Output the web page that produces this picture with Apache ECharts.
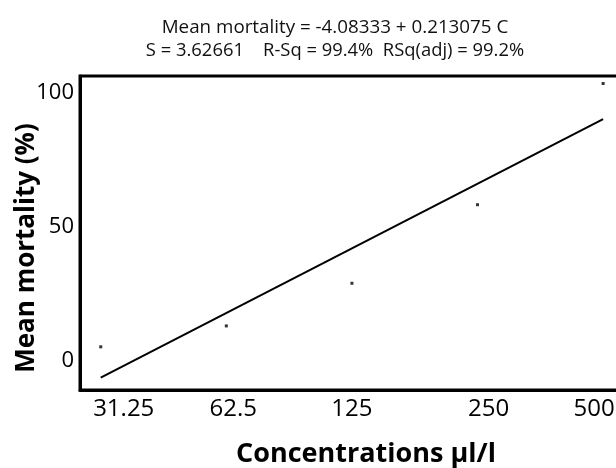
<!DOCTYPE html>
<html><head><meta charset="utf-8">
<script src="https://cdn.jsdelivr.net/npm/echarts@6/dist/echarts.min.js"></script>
<style>html,body{margin:0;padding:0;background:#fff}#c{width:616px;height:468px}</style>
</head><body><div id="c"></div>
<script>
const concentrations = ['31.25', '62.5', '125', '250', '500'];
const meanMortality = [5.3, 13.1, 29.0, 58.3, 103.5];
const fitStartEnd = [-6.2, 90.2];
const yTicks = [0, 50, 100];
const titleLine1 = 'Mean mortality = -4.08333 + 0.213075 C';
const titleLine2 = 'S = 3.62661    R-Sq = 99.4%  RSq(adj) = 99.2%';
// style only: horizontal nudge of each x label as drawn in the reference (px)
const xLabelNudge = [23, 7, 0, 11, -9];

const chart = echarts.init(document.getElementById('c'));
const idx = concentrations.map((c, i) => i);
const labelFont = {fontFamily: 'Open Sans', fontSize: 24, color: '#000'};
const rich = {};
xLabelNudge.forEach((n, i) => {
  rich['l' + i] = Object.assign({}, labelFont, {padding: n >= 0 ? [0, 0, 0, 2 * n] : [0, -2 * n, 0, 0]});
});
chart.setOption({
  animation: false,
  backgroundColor: '#fff',
  title: [
    {text: titleLine1, left: 330, top: 13, textAlign: 'center',
     textStyle: {fontFamily: 'Open Sans', fontSize: 18.8, fontWeight: 'normal', color: '#111'}},
    {text: titleLine2, left: 330, top: 37, textAlign: 'center',
     textStyle: {fontFamily: 'Open Sans', fontSize: 18.4, fontWeight: 'normal', color: '#111'}}
  ],
  grid: {left: 80, top: 76, right: -12, bottom: 78, show: true, borderColor: '#000', borderWidth: 3,
         backgroundColor: 'transparent', outerBoundsMode: 'none', containLabel: false},
  xAxis: {
    type: 'value', min: -0.165, max: 4.198,
    splitLine: {show: false},
    axisLine: {show: true, onZero: false, lineStyle: {color: '#000', width: 3}},
    axisTick: {show: false},
    axisLabel: {customValues: idx, formatter: v => { const i = Math.round(v); return '{l' + i + '|' + concentrations[i] + '}'; },
      rich: rich, color: '#000', fontFamily: 'Open Sans', fontSize: 24, margin: 7},
    name: 'Concentrations µl/l', nameLocation: 'middle', nameGap: 51, nameMoveOverlap: false,
    nameTextStyle: {fontFamily: 'Open Sans', fontSize: 27, fontWeight: 'bold', color: '#000', padding: [0, 0, 0, 24]}
  },
  yAxis: {
    type: 'value', min: -10.8, max: 106.3,
    splitLine: {show: false},
    axisLine: {show: true, onZero: false, lineStyle: {color: '#000', width: 3}},
    axisTick: {show: false},
    axisLabel: {customValues: yTicks, color: '#000', fontFamily: 'Open Sans', fontSize: 22, margin: 6},
    name: 'Mean mortality (%)', nameLocation: 'middle', nameGap: 40, nameRotate: 90, nameMoveOverlap: false,
    nameTextStyle: {fontFamily: 'Open Sans', fontSize: 26, fontWeight: 'bold', color: '#000', padding: [0, 30, 0, 0]}
  },
  series: [
    {type: 'line', data: [[idx[0], fitStartEnd[0]], [idx[idx.length - 1], fitStartEnd[1]]],
     showSymbol: false, lineStyle: {color: '#000', width: 2}},
    {type: 'scatter', data: idx.map(i => [i, meanMortality[i]]), symbol: 'rect', symbolSize: 3,
     itemStyle: {color: '#000'}}
  ]
});
</script></body></html>
